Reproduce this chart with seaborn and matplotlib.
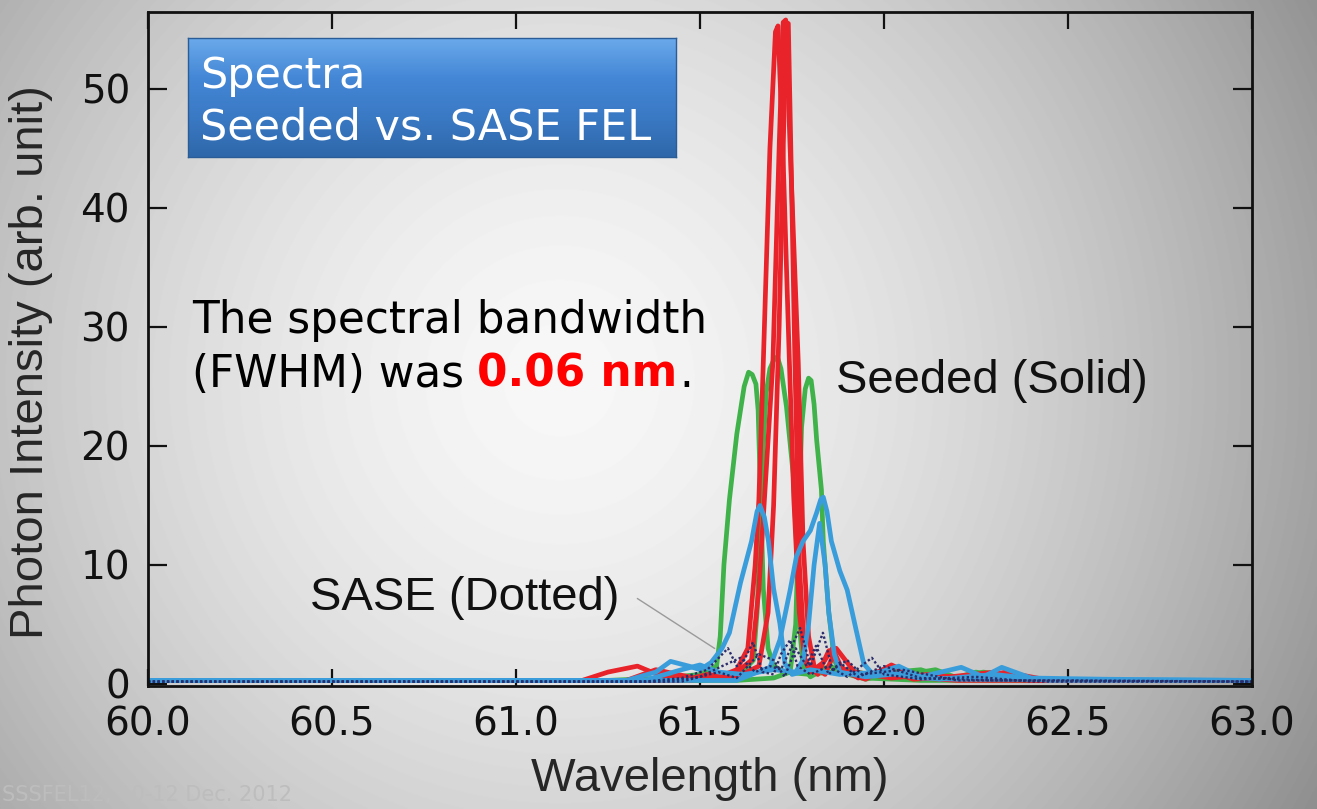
import numpy as np
import matplotlib
matplotlib.use("Agg")
import matplotlib.pyplot as plt
from matplotlib.colors import LinearSegmentedColormap
import seaborn as sns

# seeded spectra (solid) - red
red1_x = [60.0, 61.18, 61.25, 61.33, 61.40, 61.47, 61.55, 61.60, 61.63, 61.65, 61.66, 61.672, 61.69, 61.705, 61.712,
          61.725, 61.743, 61.755, 61.77, 61.785, 61.82, 61.85, 61.88, 61.93, 62.00, 62.08, 62.18, 62.30, 62.40, 63.0]
red1_y = [0.3, 0.3, 1.0, 1.5, 0.6, 0.3, 0.6, 1.2, 3.0, 10.0, 15.5, 27.0, 45.0, 54.8, 55.3,
          45.0, 27.0, 15.5, 6.0, 2.0, 0.8, 2.8, 1.5, 0.5, 1.2, 0.4, 0.6, 1.0, 0.3, 0.3]
red2_x = [60.0, 61.30, 61.38, 61.50, 61.58, 61.64, 61.66, 61.675, 61.698, 61.715, 61.726, 61.733,
          61.745, 61.767, 61.78, 61.795, 61.81, 61.84, 61.87, 61.92, 62.02, 62.12, 62.25, 62.33, 62.45, 63.0]
red2_y = [0.3, 0.3, 1.2, 0.4, 0.5, 2.0, 8.0, 15.5, 27.0, 45.0, 55.6, 55.8,
          45.0, 27.0, 12.0, 4.0, 1.5, 0.8, 3.0, 1.0, 0.5, 0.8, 0.4, 1.0, 0.3, 0.3]
red3_x = [60.0, 61.45, 61.52, 61.60, 61.66, 61.685, 61.70, 61.715, 61.734, 61.740,
          61.75, 61.758, 61.77, 61.785, 61.80, 61.835, 61.86, 61.89, 61.95, 62.02, 62.10, 62.20, 63.0]
red3_y = [0.3, 0.3, 0.8, 0.6, 1.5, 6.0, 15.0, 30.0, 55.6, 55.5,
          40.0, 27.0, 10.0, 2.0, 1.0, 1.8, 3.0, 1.0, 0.4, 1.6, 0.5, 0.3, 0.3]

# seeded spectra (solid) - green
green1_x = [60.0, 61.25, 61.40, 61.50, 61.545, 61.555, 61.565, 61.58, 61.60, 61.62, 61.632, 61.642, 61.652,
            61.658, 61.663, 61.672, 61.685, 61.70, 61.73, 61.80, 61.90, 62.00, 62.14, 62.20, 62.27, 62.40, 63.0]
green1_y = [0.3, 0.3, 0.5, 0.8, 1.5, 4.0, 10.0, 15.5, 21.0, 25.0, 26.2, 26.0, 25.2,
            23.0, 17.5, 8.0, 3.0, 1.5, 1.0, 0.8, 1.2, 0.5, 1.2, 0.5, 1.0, 0.3, 0.3]
green2_x = [60.0, 61.50, 61.60, 61.645, 61.655, 61.663, 61.672, 61.68, 61.69, 61.70, 61.71,
            61.72, 61.735, 61.753, 61.762, 61.77, 61.78, 61.80, 61.85, 61.95, 62.10, 63.0]
green2_y = [0.3, 0.3, 0.5, 2.0, 6.0, 12.0, 20.0, 24.5, 26.5, 27.2, 27.5,
            26.5, 23.3, 17.7, 12.0, 5.0, 1.5, 0.6, 1.5, 0.5, 0.3, 0.3]
green3_x = [60.0, 61.60, 61.70, 61.745, 61.76, 61.767, 61.776, 61.786, 61.795, 61.802, 61.81, 61.817,
            61.83, 61.835, 61.85, 61.865, 61.88, 61.95, 62.03, 62.10, 62.18, 62.25, 62.35, 63.0]
green3_y = [0.3, 0.3, 0.5, 1.0, 5.0, 12.0, 21.6, 24.8, 25.7, 25.5, 23.5, 20.5,
            16.3, 12.0, 6.0, 2.0, 1.0, 0.4, 1.0, 1.2, 0.4, 1.0, 0.3, 0.3]

# seeded spectra (solid) - blue
blue1_x = [60.0, 61.30, 61.38, 61.42, 61.47, 61.50, 61.53, 61.56, 61.58, 61.61, 61.64, 61.655, 61.663,
           61.675, 61.686, 61.70, 61.717, 61.731, 61.75, 61.80, 61.88, 62.00, 62.10, 62.20, 63.0]
blue1_y = [0.3, 0.3, 1.0, 1.9, 1.5, 1.2, 1.8, 3.0, 4.3, 8.5, 12.0, 14.5, 15.0,
           14.0, 12.0, 8.0, 5.1, 1.7, 0.8, 1.2, 0.8, 1.0, 0.5, 0.4, 0.3]
blue2_x = [60.0, 61.60, 61.69, 61.717, 61.745, 61.762, 61.78, 61.80, 61.817, 61.828, 61.835, 61.845,
           61.857, 61.88, 61.90, 61.926, 61.945, 61.97, 62.04, 62.10, 62.21, 62.27, 62.32, 62.40, 62.60, 63.0]
blue2_y = [0.3, 0.3, 1.4, 3.7, 7.9, 10.7, 12.0, 12.9, 14.4, 15.5, 15.7, 14.5,
           12.0, 9.5, 7.9, 4.3, 1.7, 0.8, 1.5, 0.6, 1.4, 0.6, 1.4, 0.5, 0.4, 0.3]
blue3_x = [60.0, 61.35, 61.45, 61.50, 61.55, 61.62, 61.70, 61.76, 61.78, 61.795, 61.81, 61.825,
           61.84, 61.85, 61.865, 61.88, 61.95, 62.05, 62.15, 62.30, 62.45, 63.0]
blue3_y = [0.3, 0.3, 1.2, 1.6, 1.0, 0.8, 1.2, 1.0, 2.0, 5.0, 10.0, 13.5,
           10.0, 6.0, 2.5, 1.0, 0.6, 0.9, 0.4, 0.8, 0.3, 0.3]

# SASE spectra (dotted)
sase1_x = [60.0, 61.35, 61.45, 61.52, 61.576, 61.60, 61.62, 61.644, 61.67, 61.70, 61.72, 61.745,
           61.765, 61.80, 61.85, 61.90, 61.967, 62.00, 62.10, 62.25, 62.40, 63.0]
sase1_y = [0.2, 0.2, 0.5, 1.2, 3.0, 1.5, 2.0, 3.5, 1.0, 0.8, 2.5, 3.7,
           1.5, 0.8, 1.5, 0.6, 2.2, 0.8, 0.4, 0.6, 0.2, 0.2]
sase2_x = [60.0, 61.40, 61.50, 61.56, 61.61, 61.65, 61.69, 61.72, 61.772, 61.80, 61.834,
           61.86, 61.90, 61.94, 62.05, 62.20, 62.50, 63.0]
sase2_y = [0.2, 0.2, 0.6, 1.5, 2.2, 1.0, 1.5, 1.2, 4.7, 1.5, 4.3,
           1.2, 2.0, 0.8, 1.2, 0.3, 0.3, 0.2]
sase3_x = [60.0, 61.45, 61.55, 61.60, 61.66, 61.70, 61.73, 61.76, 61.79, 61.815, 61.85,
           61.88, 61.93, 62.00, 62.10, 62.30, 63.0]
sase3_y = [0.2, 0.2, 1.0, 0.5, 2.5, 2.0, 0.6, 3.0, 1.5, 3.2, 0.8,
           1.8, 0.6, 1.5, 0.5, 0.3, 0.2]

x_ticks = [60.0, 60.5, 61.0, 61.5, 62.0, 62.5, 63.0]
y_ticks = [0, 10, 20, 30, 40, 50]

W, H = 1317, 809


def px(x, y):
    # pixel position -> figure fraction
    return x / W, 1 - y / H


sns.set_style("ticks")
plt.rcParams['font.family'] = ['DejaVu Sans']

fig = plt.figure(figsize=(W / 100, H / 100), dpi=100)

# grey radial background
bg = fig.add_axes([0, 0, 1, 1], zorder=-1)
yy, xx = np.mgrid[0:H, 0:W]
r = np.sqrt(((xx - 560) / 500.0) ** 2 + ((yy - 380) / 500.0) ** 2)
shade = np.clip(0.97 - 0.17 * r ** 1.6, 0, 1)
bg.imshow(shade, cmap='gray', vmin=0, vmax=1, aspect='auto', extent=[0, 1, 0, 1])
bg.axis('off')

ax = fig.add_axes([148 / W, 1 - 686 / H, 1104 / W, 674 / H], zorder=1)
ax.set_facecolor('none')

red = '#e8232a'
green = '#3fb249'
blue = '#3a9ddb'
navy = '#2b2d6b'

for cx, cy in [(green1_x, green1_y), (green2_x, green2_y), (green3_x, green3_y)]:
    sns.lineplot(x=cx, y=cy, ax=ax, color=green, linewidth=3.4, sort=False, estimator=None)
for cx, cy in [(red1_x, red1_y), (red2_x, red2_y), (red3_x, red3_y)]:
    sns.lineplot(x=cx, y=cy, ax=ax, color=red, linewidth=3.4, sort=False, estimator=None)
for cx, cy in [(blue1_x, blue1_y), (blue2_x, blue2_y), (blue3_x, blue3_y)]:
    sns.lineplot(x=cx, y=cy, ax=ax, color=blue, linewidth=3.4, sort=False, estimator=None)
for cx, cy in [(sase1_x, sase1_y), (sase2_x, sase2_y), (sase3_x, sase3_y)]:
    sns.lineplot(x=cx, y=cy, ax=ax, color=navy, linewidth=1.7, linestyle=(0, (1, 1)),
                 sort=False, estimator=None)

ax.set_xlim(60, 63)
ax.set_ylim(-0.17, 56.47)
ax.set_xticks(x_ticks)
ax.set_xticklabels([f"{v:.1f}" for v in x_ticks])
ax.set_yticks(y_ticks)
ax.set_yticklabels([str(v) for v in y_ticks])
ax.tick_params(axis='both', direction='in', top=True, right=True, width=1.6,
               colors='#111111', labelsize=28)
ax.tick_params(axis='y', length=14, pad=13)
ax.tick_params(axis='x', length=12, pad=14)
for s in ax.spines.values():
    s.set_linewidth(2.0)
    s.set_color('#111111')

ax.set_xlabel('Wavelength (nm)', fontsize=34, family=['Liberation Sans', 'DejaVu Sans'])
ax.set_ylabel('Photon Intensity (arb. unit)', fontsize=34, family=['Liberation Sans', 'DejaVu Sans'])
ax.xaxis.set_label_coords(0.509, -0.105)
ax.yaxis.label.set_verticalalignment('bottom')
ax.yaxis.set_label_coords(-0.086, 0.481)
ax.xaxis.label.set_verticalalignment('top')

# leader line for SASE label
x0, y0 = 60 + (635 - 148) / 368, (684 - 597) / 11.9
x1, y1 = 60 + (717 - 148) / 368, (684 - 650) / 11.9
ax.annotate('', xy=(x1, y1), xytext=(x0, y0),
            arrowprops=dict(arrowstyle='-', color='#9a9a9a', lw=1.0))

# title box
box = fig.add_axes([188 / W, 1 - 157 / H, 488 / W, 119 / H], zorder=2)
grad = np.linspace(0, 1, 100).reshape(-1, 1)
box_cmap = LinearSegmentedColormap.from_list('box', ['#6aa9ea', '#4487d6', '#3a79c4', '#2f68aa'])
box.imshow(grad, cmap=box_cmap, aspect='auto', extent=[0, 1, 0, 1])
box.set_xticks([])
box.set_yticks([])
for s in box.spines.values():
    s.set_color('#2a5d98')
    s.set_linewidth(1.0)

fig.text(*px(200, 88), 'Spectra', color='white', fontsize=31, va='baseline', zorder=5)
fig.text(*px(200, 140), 'Seeded vs. SASE FEL', color='white', fontsize=31, va='baseline', zorder=5)

fig.text(*px(192, 333), 'The spectral bandwidth', color='black', fontsize=31.5, va='baseline')
t1 = fig.text(*px(192, 387), '(FWHM) was', color='black', fontsize=31.5, va='baseline')
fig.canvas.draw()
rend = fig.canvas.get_renderer()
bb = t1.get_window_extent(renderer=rend)
t2 = fig.text((bb.x1 + 13) / W, 1 - 387 / H, '0.06 nm', color='#ff0000', fontsize=31.5,
              fontweight='bold', va='baseline')
bb2 = t2.get_window_extent(renderer=rend)
fig.text((bb2.x1 + 2) / W, 1 - 387 / H, '.', color='black', fontsize=31.5, va='baseline')

lab_font = ['Liberation Sans', 'DejaVu Sans']
fig.text(*px(836, 393), 'Seeded (Solid)', fontsize=34, family=lab_font, va='baseline', color='#111111')
fig.text(*px(310, 610), 'SASE (Dotted)', fontsize=34, family=lab_font, va='baseline', color='#111111')

fig.text(*px(2, 801), 'SSSFEL12, 10-12 Dec. 2012', fontsize=15, color='#bdbdbd', va='baseline')

fig.savefig('out.png', dpi=100)
